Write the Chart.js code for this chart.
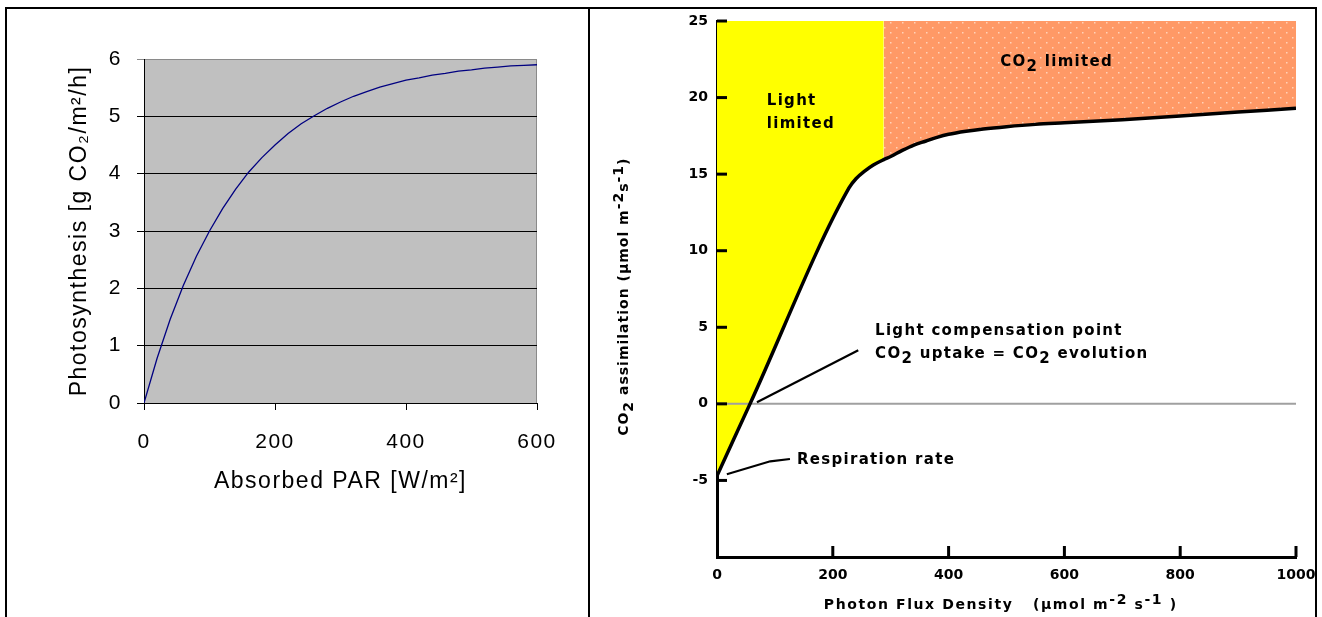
<!DOCTYPE html>
<html><head><meta charset="utf-8">
<script src="https://cdn.jsdelivr.net/npm/chart.js@4.4.1/dist/chart.umd.min.js"></script>
<style>
html,body{margin:0;padding:0;background:#fff;width:1322px;height:617px;overflow:hidden;position:relative}
canvas{position:absolute;left:0;top:0}
.b{position:absolute;background:#000}
</style></head><body>
<canvas id="c1" width="1322" height="617"></canvas>
<canvas id="c2" width="1322" height="617"></canvas>
<div class="b" style="left:5px;top:7px;width:1312px;height:2px"></div>
<div class="b" style="left:5px;top:7px;width:2px;height:610px"></div>
<div class="b" style="left:588px;top:7px;width:2px;height:610px"></div>
<div class="b" style="left:1315px;top:7px;width:2px;height:610px"></div>
<script>
// ---------- Left chart data ----------
const parX = [0,20,40,60,80,100,120,140,160,180,200,220,240,260,280,300,320,340,360,380,400,420,440,460,480,500,520,540,560,580,600];
const photosynthesis = [0,0.78,1.46,2.05,2.56,3.0,3.39,3.73,4.03,4.28,4.5,4.7,4.87,5.01,5.14,5.25,5.35,5.43,5.51,5.57,5.63,5.67,5.72,5.75,5.79,5.81,5.84,5.86,5.88,5.89,5.9];
const leftXTicks = [0,200,400,600];
const leftYTicks = [0,1,2,3,4,5,6];

// ---------- Right chart data ----------
const pfdX = [0,57,228,240,255,270,288,300,320,340,360,380,400,430,460,500,550,600,700,800,900,1000];
const co2Assim = [-4.7,0,14.1,14.7,15.2,15.6,15.95,16.15,16.55,16.9,17.15,17.4,17.6,17.8,17.95,18.1,18.25,18.35,18.55,18.8,19.05,19.3];
const limitBoundary = 288;
const rightXTicks = [0,200,400,600,800,1000];
const rightYTicks = [-10,-5,0,5,10,15,20,25];

const LF = '"Liberation Sans", Arial, sans-serif';
const RF = '"DejaVu Sans", Verdana, sans-serif';

// ---------- Left chart ----------
const bgPlugin = {
  id:'bg',
  beforeDraw(chart){
    const {ctx, chartArea:a} = chart;
    ctx.save();
    ctx.fillStyle = '#c0c0c0';
    ctx.fillRect(a.left, a.top, a.right-a.left, a.bottom-a.top);
    ctx.strokeStyle = '#8a8a8a'; ctx.lineWidth = 1;
    ctx.beginPath(); ctx.moveTo(a.right-0.5, a.top); ctx.lineTo(a.right-0.5, a.bottom); ctx.stroke();
    ctx.restore();
    ctx.letterSpacing = '1.5px';
  }
};

new Chart(document.getElementById('c1'), {
  type:'line',
  data:{datasets:[{
    data: parX.map((x,i)=>({x, y:photosynthesis[i]})),
    borderColor:'#000080', borderWidth:1.3, pointRadius:0, fill:false, tension:0
  }]},
  options:{
    responsive:false, animation:false,
    layout:{padding:{left:0, top:59, right:785, bottom:122}},
    plugins:{legend:{display:false}, tooltip:{enabled:false}},
    scales:{
      x:{type:'linear', min:0, max:600,
        afterBuildTicks:s=>{ s.ticks = leftXTicks.map(v=>({value:v})); },
        afterFit:s=>{ s.height = 92; },
        grid:{drawOnChartArea:false, drawTicks:true, tickLength:7, color:'#000', lineWidth:1},
        border:{color:'#000', width:1},
        ticks:{font:{family:LF, size:21}, color:'#000', padding:20, autoSkip:false, maxRotation:0},
        title:{display:true, text:'Absorbed PAR [W/m²]', font:{family:LF, size:23}, color:'#000', padding:0}
      },
      y:{min:0, max:6,
        afterBuildTicks:s=>{ s.ticks = leftYTicks.map(v=>({value:v})); },
        afterFit:s=>{ s.width = 144; },
        grid:{color:c=> (c.tick && c.tick.value===6) ? '#8a8a8a' : '#000', tickLength:7, lineWidth:1},
        border:{color:'#000', width:1},
        ticks:{font:{family:LF, size:21}, color:'#000', padding:15, autoSkip:false},
        title:{display:true, text:'Photosynthesis [g CO₂/m²/h]', font:{family:LF, size:23}, color:'#000', padding:{top:66, bottom:0}}
      }
    }
  },
  plugins:[bgPlugin]
});

// ---------- Right chart ----------
function dotPattern(){
  const c = document.createElement('canvas'); c.width = 12; c.height = 10;
  const g = c.getContext('2d');
  g.fillStyle = '#ff9966'; g.fillRect(0,0,12,10);
  g.fillStyle = '#ffd2b8';
  g.fillRect(2,2,1.5,1.5); g.fillRect(8,7,1.5,1.5);
  return g.createPattern(c, 'repeat');
}

const curvePts = pfdX.map((x,i)=>({x, y:co2Assim[i]}));
const labels = [
  {x:86, y:19.75, parts:[{t:'Light'}]},
  {x:86, y:18.25, parts:[{t:'limited'}]},
  {x:489, y:22.3, parts:[{t:'CO'},{t:'2',sub:true},{t:' limited'}]},
  {x:273, y:4.75, parts:[{t:'Light compensation point'}]},
  {x:273, y:3.25, parts:[{t:'CO'},{t:'2',sub:true},{t:' uptake = CO'},{t:'2',sub:true},{t:' evolution'}]},
  {x:138, y:-3.65, parts:[{t:'Respiration rate'}]}
];
const leaders = [
  [{x:244,y:3.5},{x:69,y:0.1}],
  [{x:126,y:-3.6},{x:92,y:-3.75},{x:17,y:-4.6}]
];
const xTitleParts = [{t:'Photon Flux Density   (μmol m'},{t:'-2',sup:true},{t:' s'},{t:'-1',sup:true},{t:' )'}];
const yTitleParts = [{t:'CO'},{t:'2',sub:true},{t:' assimilation (μmol m'},{t:'-2',sup:true},{t:'s'},{t:'-1',sup:true},{t:')'}];

function richWidth(ctx, parts){ return parts.reduce((w,p)=>w+ctx.measureText(p.t).width, 0); }
function drawRich(ctx, parts, x, y){
  parts.forEach(p=>{
    ctx.fillText(p.t, x, p.sub ? y+5 : (p.sup ? y-5 : y));
    x += ctx.measureText(p.t).width;
  });
}

const annotPlugin = {
  id:'annot',
  afterDraw(chart){
    const {ctx, scales:{x, y}} = chart;
    ctx.save();
    ctx.strokeStyle = '#000'; ctx.lineWidth = 3; ctx.lineCap = 'butt';
    y.ticks.forEach(t=>{
      if (t.value <= y.min) return;
      const py = y.getPixelForValue(t.value);
      ctx.beginPath(); ctx.moveTo(x.left, py); ctx.lineTo(x.left+10, py); ctx.stroke();
    });
    x.ticks.forEach(t=>{
      if (t.value <= x.min) return;
      const px = x.getPixelForValue(t.value);
      ctx.beginPath(); ctx.moveTo(px, y.bottom); ctx.lineTo(px, y.bottom-11); ctx.stroke();
    });
    ctx.lineWidth = 2.2;
    leaders.forEach(pts=>{
      ctx.beginPath();
      pts.forEach((p,i)=>{
        const px = x.getPixelForValue(p.x), py = y.getPixelForValue(p.y);
        if (i===0) ctx.moveTo(px,py); else ctx.lineTo(px,py);
      });
      ctx.stroke();
    });
    ctx.fillStyle = '#000';
    ctx.textBaseline = 'middle'; ctx.textAlign = 'left';
    ctx.font = 'bold 15px ' + RF;
    ctx.letterSpacing = '1.3px';
    labels.forEach(l=>{
      drawRich(ctx, l.parts, x.getPixelForValue(l.x), y.getPixelForValue(l.y));
    });
    // axis titles (rich text with sub/superscripts)
    ctx.font = 'bold 14px ' + RF;
    ctx.letterSpacing = '1.6px';
    const xw = richWidth(ctx, xTitleParts);
    drawRich(ctx, xTitleParts, x.getPixelForValue(490) - xw/2, y.bottom + 48);
    ctx.letterSpacing = '1px';
    ctx.save();
    ctx.translate(x.left - 93, y.getPixelForValue(7));
    ctx.rotate(-Math.PI/2);
    const yw = richWidth(ctx, yTitleParts);
    drawRich(ctx, yTitleParts, -yw/2, 0);
    ctx.restore();
    ctx.restore();
  }
};

new Chart(document.getElementById('c2'), {
  type:'line',
  data:{datasets:[
    {data:curvePts, borderColor:'#000', borderWidth:3.5, pointRadius:0, fill:false,
     cubicInterpolationMode:'monotone', order:0},
    {data:[{x:rightXTicks[0],y:0},{x:rightXTicks[rightXTicks.length-1],y:0}], borderColor:'#a0a0a0', borderWidth:2, pointRadius:0, fill:false, order:1},
    {data:curvePts.filter(p=>p.x>=limitBoundary), borderWidth:0, pointRadius:0, fill:'end',
     backgroundColor:dotPattern(), cubicInterpolationMode:'monotone', order:2},
    {data:curvePts.filter(p=>p.x<=limitBoundary), borderWidth:0, pointRadius:0, fill:'end',
     backgroundColor:'#ffff00', cubicInterpolationMode:'monotone', order:3}
  ]},
  options:{
    responsive:false, animation:false,
    layout:{padding:{left:590, top:21, right:26, bottom:4}},
    plugins:{legend:{display:false}, tooltip:{enabled:false}},
    scales:{
      x:{type:'linear', min:0, max:1000,
        afterBuildTicks:s=>{ s.ticks = rightXTicks.map(v=>({value:v})); },
        afterFit:s=>{ s.height = 56; s.paddingLeft = 0; s.paddingRight = 0; },
        grid:{display:false, drawTicks:false},
        border:{color:'#000', width:3},
        ticks:{font:{family:RF, size:14, weight:'bold'}, color:'#000', padding:10, autoSkip:false, maxRotation:0,
          callback:v=>String(v)},
        title:{display:false}
      },
      y:{min:-10, max:25,
        afterBuildTicks:s=>{ s.ticks = rightYTicks.map(v=>({value:v})); },
        afterFit:s=>{ s.width = 127; s.paddingTop = 0; s.paddingBottom = 0; },
        grid:{display:false, drawTicks:false},
        border:{color:'#000', width:3},
        ticks:{font:{family:RF, size:14, weight:'bold'}, color:'#000', padding:9, autoSkip:false,
          callback:v=> v===-10 ? '' : String(v)},
        title:{display:false}
      }
    }
  },
  plugins:[annotPlugin]
});
</script>
</body></html>
